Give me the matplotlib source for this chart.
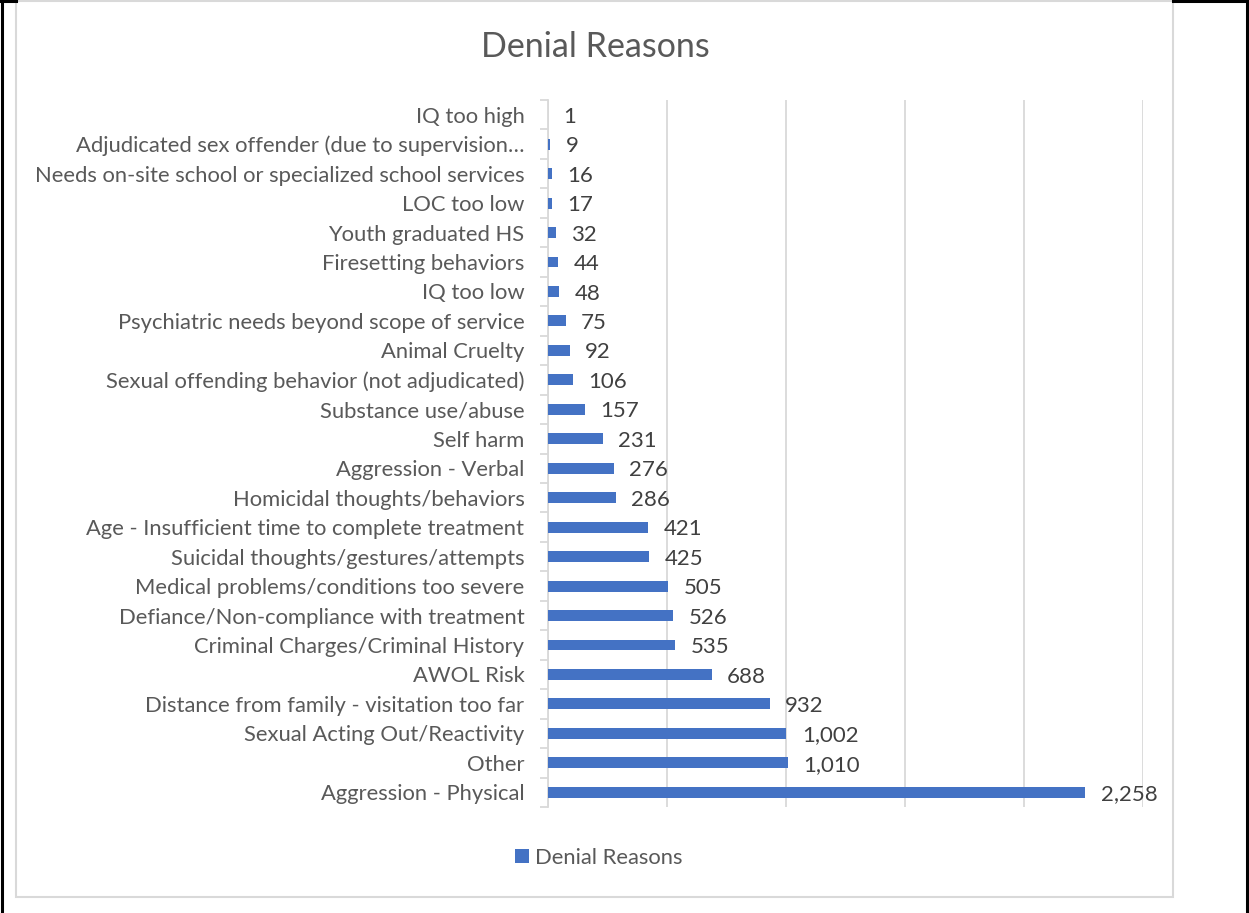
import matplotlib.pyplot as plt
from matplotlib.lines import Line2D
from matplotlib.patches import Rectangle

plt.rcParams['font.family'] = ['Lato', 'DejaVu Sans']

reasons = [
    "IQ too high",
    "Adjudicated sex offender (due to supervision\u2026",
    "Needs on-site school or specialized school services",
    "LOC too low",
    "Youth graduated HS",
    "Firesetting behaviors",
    "IQ too low",
    "Psychiatric needs beyond scope of service",
    "Animal Cruelty",
    "Sexual offending behavior (not adjudicated)",
    "Substance use/abuse",
    "Self harm",
    "Aggression - Verbal",
    "Homicidal thoughts/behaviors",
    "Age - Insufficient time to complete treatment",
    "Suicidal thoughts/gestures/attempts",
    "Medical problems/conditions too severe",
    "Defiance/Non-compliance with treatment",
    "Criminal Charges/Criminal History",
    "AWOL Risk",
    "Distance from family - visitation too far",
    "Sexual Acting Out/Reactivity",
    "Other",
    "Aggression - Physical",
]
counts = [1, 9, 16, 17, 32, 44, 48, 75, 92, 106, 157, 231, 276, 286,
          421, 425, 505, 526, 535, 688, 932, 1002, 1010, 2258]

W, H = 1249, 913
fig = plt.figure(figsize=(W / 100, H / 100), dpi=100)

# outer black frame and grey chart border
fig.add_artist(Line2D([2 / W, 2 / W], [0, 1], color="black", lw=2.2))
fig.add_artist(Line2D([0, 16 / W], [1 - 1.5 / H, 1 - 1.5 / H], color="black", lw=2.2))
fig.add_artist(Line2D([1173 / W, 1], [1 - 1.5 / H, 1 - 1.5 / H], color="black", lw=2.2))
fig.add_artist(Line2D([1247 / W, 1247 / W], [0, 1], color="black", lw=2.2))
fig.add_artist(Rectangle((16 / W, 1 - 897 / H), (1173 - 16) / W, (897 - 1) / H,
                         fill=False, edgecolor="#D9D9D9", lw=1.5))

ax = fig.add_axes([548 / W, 1 - 807 / H, (1143 - 548) / W, (807 - 100) / H])
y = list(range(len(reasons)))
bars = ax.barh(y, counts, height=0.37, color="#4472C4", label="Denial Reasons", zorder=3)
ax.set_ylim(len(reasons) - 0.5, -0.5)
ax.set_xlim(0, 2500)
ax.set_xticks([0, 500, 1000, 1500, 2000, 2500])
ax.tick_params(axis="x", length=0, labelbottom=False)
ax.grid(axis="x", color="#D9D9D9", lw=1.3, zorder=0)

ax.set_yticks(y)
ax.set_yticklabels(reasons, fontsize=15.8, color="#595959")
ax.tick_params(axis="y", length=0, pad=17)
ax.set_yticks([i + 0.5 for i in range(-1, len(reasons))], minor=True)
ax.tick_params(axis="y", which="minor", length=6, width=1.3, color="#D9D9D9")

for s in ["top", "right", "bottom"]:
    ax.spines[s].set_visible(False)
ax.spines["left"].set_color("#D9D9D9")
ax.spines["left"].set_linewidth(1.3)

# data labels
for yi, c in zip(y, counts):
    ax.annotate(f"{c:,}", (c, yi), xytext=(11, -1.5), textcoords="offset points",
                ha="left", va="center", fontsize=16, color="#404040")

fig.text(595 / W, 1 - 47 / H, "Denial Reasons", ha="center", va="center",
         fontsize=24.5, color="#595959")

fig.legend(handles=[bars], loc="center", bbox_to_anchor=(599 / W, 1 - 858 / H),
           frameon=False, fontsize=15.8, labelcolor="#595959",
           handlelength=0.6, handleheight=0.6, handletextpad=0.3)

fig.savefig("out.png", dpi=100)
